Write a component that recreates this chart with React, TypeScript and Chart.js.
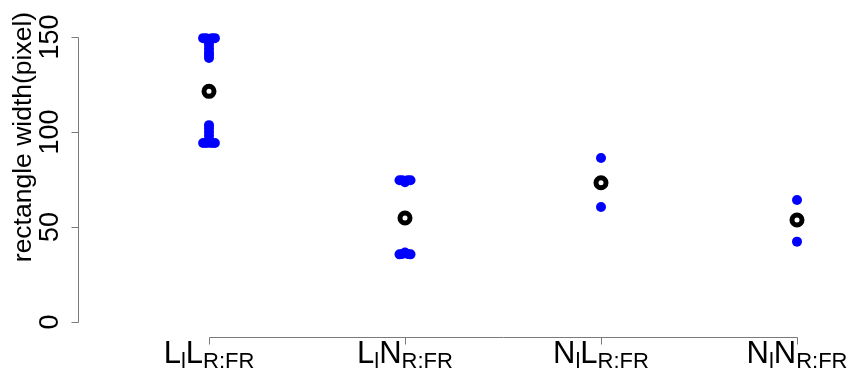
import React, { useEffect, useRef } from "react";
import { Chart, registerables } from "chart.js";

Chart.register(...registerables);

// Category label parts: main letter, subscript, main letter, subscript
const categoryMain1 = ["L", "L", "N", "N"];
const categorySub1 = ["l", "l", "l", "l"];
const categoryMain2 = ["L", "N", "L", "N"];
const categorySub2 = ["R:FR", "R:FR", "R:FR", "R:FR"];
const categoryPositions = [1, 2, 3, 4];

// Observed values (blue points): group index, horizontal offset, value
const obsGroup = [
  1, 1, 1, 1, 1, 1, 1, 1, 1, 1, 1,
  1, 1, 1, 1, 1, 1, 1, 1, 1, 1,
  2, 2, 2, 2, 2, 2, 2, 2, 2, 2,
  3, 3,
  4, 4,
];
const obsOffset = [
  -0.03, -0.015, 0.015, 0.03, 0, 0, 0, 0, 0, 0, 0,
  0, 0, 0, 0, 0, 0, -0.03, -0.015, 0.015, 0.03,
  -0.028, -0.014, 0, 0.014, 0.028, -0.028, -0.014, 0, 0.014, 0.028,
  0, 0,
  0, 0,
];
const obsValue = [
  149.4, 149.4, 149.4, 149.4, 149, 147.5, 146, 144, 142, 140.5, 139,
  103.6, 102, 100, 98, 96, 94.3, 94.2, 94.2, 94.2, 94.2,
  74.6, 74.6, 73.6, 74.6, 74.6, 35.6, 35.8, 36.6, 35.8, 35.6,
  86.3, 60.5,
  64.2, 42.3,
];

// Means (black open circles)
const meanValues = [121.4, 54.7, 73.3, 53.7];

// Axis ticks
const yTicks = [0, 50, 100, 150];
const yTickLabels = ["0", "50", "100", "150"];
const yAxisTitle = "rectangle width(pixel)";

const FONT = "'Liberation Sans', Arial, Helvetica, sans-serif";

const rAxesPlugin = {
  id: "rAxes",
  afterDraw(chart: any) {
    const ctx = chart.ctx as CanvasRenderingContext2D;
    const xs = chart.scales.x;
    const ys = chart.scales.y;
    const area = chart.chartArea;
    ctx.save();
    ctx.strokeStyle = "#7a7a7a";
    ctx.lineWidth = 1;

    // Y axis
    const axX = Math.round(area.left) + 0.5;
    const y0 = ys.getPixelForValue(yTicks[0]);
    const y1 = ys.getPixelForValue(yTicks[yTicks.length - 1]);
    ctx.beginPath();
    ctx.moveTo(axX, Math.round(y0) + 0.5);
    ctx.lineTo(axX, Math.round(y1) + 0.5);
    yTicks.forEach((v) => {
      const py = Math.round(ys.getPixelForValue(v)) + 0.5;
      ctx.moveTo(axX, py);
      ctx.lineTo(axX - 7, py);
    });
    ctx.stroke();

    // Y tick labels (rotated)
    ctx.fillStyle = "#000";
    ctx.font = `27px ${FONT}`;
    ctx.textAlign = "center";
    ctx.textBaseline = "alphabetic";
    yTicks.forEach((v, i) => {
      const py = ys.getPixelForValue(v);
      ctx.save();
      ctx.translate(58, py);
      ctx.rotate(-Math.PI / 2);
      ctx.fillText(yTickLabels[i], 0, 0);
      ctx.restore();
    });

    // Y title
    ctx.save();
    ctx.font = `26.5px ${FONT}`;
    ctx.translate(31, 137);
    ctx.rotate(-Math.PI / 2);
    ctx.fillText(yAxisTitle, 0, 0);
    ctx.restore();

    // X axis
    const axY = Math.round(area.bottom) + 0.5;
    const xa = Math.round(xs.getPixelForValue(categoryPositions[0])) + 0.5;
    const xb = Math.round(xs.getPixelForValue(categoryPositions[categoryPositions.length - 1])) + 0.5;
    ctx.beginPath();
    ctx.moveTo(xa, axY);
    ctx.lineTo(xb, axY);
    categoryPositions.forEach((c) => {
      const px = Math.round(xs.getPixelForValue(c)) + 0.5;
      ctx.moveTo(px, axY);
      ctx.lineTo(px, axY + 7);
    });
    ctx.stroke();

    // X labels with subscripts
    const mainFont = `31px ${FONT}`;
    const subFont = `22px ${FONT}`;
    const baseY = 363;
    const subY = baseY + 5;
    categoryPositions.forEach((c, i) => {
      const parts = [
        { t: categoryMain1[i], sub: false },
        { t: categorySub1[i], sub: true },
        { t: categoryMain2[i], sub: false },
        { t: categorySub2[i], sub: true },
      ];
      let total = 0;
      const widths = parts.map((p) => {
        ctx.font = p.sub ? subFont : mainFont;
        const w = ctx.measureText(p.t).width;
        total += w;
        return w;
      });
      let x = xs.getPixelForValue(c) - total / 2;
      ctx.textAlign = "left";
      parts.forEach((p, k) => {
        ctx.font = p.sub ? subFont : mainFont;
        ctx.fillText(p.t, x, p.sub ? subY : baseY);
        x += widths[k];
      });
    });
    ctx.restore();
  },
};

export default function App() {
  const ref = useRef<HTMLCanvasElement | null>(null);

  useEffect(() => {
    if (!ref.current) return;
    const pxPerUnitX = 196;
    const pxPerUnitY = 1.9;
    const leftPx = 78;
    const rightPx = 840;
    const topPx = 20;
    const bottomPx = 337;
    const x1Px = 209;
    const zeroPx = 322;

    const obsData = obsValue.map((v, i) => ({ x: obsGroup[i] + obsOffset[i], y: v }));
    const meanData = meanValues.map((v, i) => ({ x: categoryPositions[i], y: v }));

    const chart = new Chart(ref.current, {
      type: "scatter",
      data: {
        datasets: [
          {
            label: "mean",
            data: meanData,
            pointRadius: 5,
            pointBorderWidth: 5,
            pointBorderColor: "#000",
            pointBackgroundColor: "#fff",
            pointHoverRadius: 5,
            order: 0,
          },
          {
            label: "observed",
            data: obsData,
            pointRadius: 5,
            pointBorderWidth: 0,
            pointBackgroundColor: "#0000ff",
            pointBorderColor: "#0000ff",
            pointHoverRadius: 5,
            order: 1,
          },
        ],
      },
      options: {
        animation: false,
        responsive: false,
        maintainAspectRatio: false,
        devicePixelRatio: 1,
        clip: false as any,
        layout: {
          padding: { left: leftPx, right: 852 - rightPx, top: topPx, bottom: 373 - bottomPx },
        },
        plugins: { legend: { display: false }, tooltip: { enabled: false } },
        scales: {
          x: {
            type: "linear",
            display: false,
            min: 1 - (x1Px - leftPx) / pxPerUnitX,
            max: 4 + (rightPx - (x1Px + 3 * pxPerUnitX)) / pxPerUnitX,
          },
          y: {
            type: "linear",
            display: false,
            min: -(bottomPx - zeroPx) / pxPerUnitY,
            max: (zeroPx - topPx) / pxPerUnitY,
          },
        },
      },
      plugins: [rAxesPlugin],
    });
    return () => chart.destroy();
  }, []);

  return (
    <div style={{ position: "fixed", left: 0, top: 0, width: 852, height: 373, background: "#fff" }}>
      <canvas ref={ref} width={852} height={373} style={{ width: 852, height: 373, display: "block" }} />
    </div>
  );
}
